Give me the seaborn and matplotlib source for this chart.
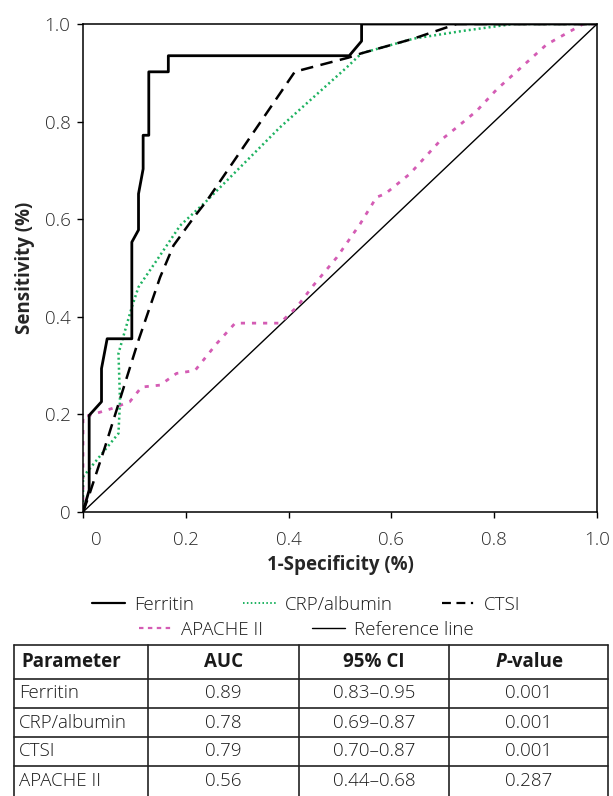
import matplotlib
matplotlib.use("Agg")
import matplotlib.pyplot as plt
import matplotlib.transforms as mtransforms
from matplotlib.lines import Line2D
import seaborn as sns

# ROC curves (1-specificity, sensitivity)
ferritin_fpr = [0, 0.012, 0.012, 0.036, 0.036, 0.047, 0.095, 0.095, 0.108, 0.108, 0.117, 0.117,
                0.128, 0.128, 0.166, 0.166, 0.518, 0.542, 0.542, 1.0]
ferritin_sens = [0, 0.045, 0.198, 0.226, 0.294, 0.355, 0.355, 0.553, 0.578, 0.652, 0.703, 0.772,
                 0.772, 0.902, 0.902, 0.935, 0.935, 0.965, 1.0, 1.0]

crp_fpr = [0, 0, 0.069, 0.072, 0.069, 0.078, 0.095, 0.108, 0.143, 0.189, 0.241, 0.383, 0.513,
           0.542, 0.643, 0.74, 0.837, 1.0]
crp_sens = [0, 0.072, 0.161, 0.229, 0.325, 0.358, 0.42, 0.461, 0.515, 0.587, 0.638, 0.788, 0.911,
            0.94, 0.97, 0.986, 1.0, 1.0]

ctsi_fpr = [0, 0.013, 0.043, 0.108, 0.15, 0.176, 0.218, 0.241, 0.412, 0.422, 0.516, 0.542, 0.643,
            0.727, 1.0]
ctsi_sens = [0, 0.038, 0.134, 0.352, 0.481, 0.546, 0.607, 0.638, 0.902, 0.905, 0.931, 0.94, 0.97,
             1.0, 1.0]

apache_fpr = [0, 0, 0.013, 0.056, 0.091, 0.114, 0.15, 0.182, 0.218, 0.26, 0.296, 0.383, 0.416,
              0.448, 0.494, 0.539, 0.571, 0.588, 0.636, 0.695, 0.727, 0.766, 0.805, 0.902, 0.973, 1.0]
apache_sens = [0, 0.196, 0.198, 0.212, 0.226, 0.256, 0.26, 0.284, 0.29, 0.345, 0.387, 0.387, 0.42,
               0.464, 0.522, 0.59, 0.645, 0.652, 0.693, 0.761, 0.788, 0.822, 0.866, 0.958, 1.0, 1.0]

ref_line = [0, 1]

ticks = [0, 0.2, 0.4, 0.6, 0.8, 1.0]
tick_labels = ["0", "0.2", "0.4", "0.6", "0.8", "1.0"]

# summary table
table_header = ["Parameter", "AUC", "95% CI", "-value"]
parameters = ["Ferritin", "CRP/albumin", "CTSI", "APACHE II"]
auc = ["0.89", "0.78", "0.79", "0.56"]
ci = ["0.83–0.95", "0.69–0.87", "0.70–0.87", "0.44–0.68"]
p_values = ["0.001", "0.001", "0.001", "0.287"]

sns.set_theme(style="white")
plt.rcParams["font.family"] = ["Open Sans", "DejaVu Sans"]
plt.rcParams["text.color"] = "#1a1a1a"

green = "#1db260"
pink = "#d45cb4"
fs = 13.5

fig = plt.figure(figsize=(6.13, 7.96), dpi=100)
ax = fig.add_axes([83 / 613, 1 - 512 / 796, 514 / 613, 488 / 796])

sns.lineplot(x=ref_line, y=ref_line, sort=False, estimator=None, color="black",
             linewidth=1.0, ax=ax)
sns.lineplot(x=apache_fpr, y=apache_sens, sort=False, estimator=None, color=pink,
             linewidth=2.0, linestyle=(0, (1.5, 2.5)), ax=ax)
sns.lineplot(x=crp_fpr, y=crp_sens, sort=False, estimator=None, color=green,
             linewidth=1.8, linestyle=(0, (0.8, 1.2)), ax=ax)
sns.lineplot(x=ctsi_fpr, y=ctsi_sens, sort=False, estimator=None, color="black",
             linewidth=1.8, linestyle=(0, (5, 3)), ax=ax)
sns.lineplot(x=ferritin_fpr, y=ferritin_sens, sort=False, estimator=None, color="black",
             linewidth=2.0, ax=ax)

ax.set_xlim(0, 1)
ax.set_ylim(0, 1)
ax.set_xticks(ticks)
ax.set_xticklabels(tick_labels)
ax.set_yticks(ticks)
ax.set_yticklabels(tick_labels)
ax.tick_params(axis="both", direction="out", length=4, width=1, color="black",
               labelsize=fs, labelcolor="#2a2a2a", bottom=True, left=True)
ax.tick_params(axis="x", pad=9.5)
ax.tick_params(axis="y", pad=5)
for lbl in ax.get_xticklabels() + ax.get_yticklabels():
    lbl.set_fontweight("light")
# the "0" on the x axis sits a bit right of its tick in the reference
first = ax.get_xticklabels()[0]
first.set_transform(first.get_transform() + mtransforms.ScaledTranslation(13 / 100, 0, fig.dpi_scale_trans))

for sp in ax.spines.values():
    sp.set_color("black")
    sp.set_linewidth(1.1)

ax.set_xlabel("1-Specificity (%)", fontsize=fs, fontweight="bold", labelpad=4.5)
ax.set_ylabel("Sensitivity (%)", fontsize=fs, fontweight="bold", labelpad=7)

# legend, two centred rows
row1 = [Line2D([], [], color="black", lw=1.6),
        Line2D([], [], color=green, lw=1.4, ls=(0, (0.8, 1.2))),
        Line2D([], [], color="black", lw=1.6, ls=(0, (4, 2.5, 4, 2.5, 1, 2.5)))]
row2 = [Line2D([], [], color=pink, lw=1.6, ls=(0, (2, 2))),
        Line2D([], [], color="black", lw=1.0)]
leg_kw = dict(frameon=False, fontsize=fs, handlelength=1.75, handletextpad=0.5,
              columnspacing=2.6, borderpad=0, loc="center")
leg1 = fig.legend(row1, ["Ferritin", "CRP/albumin", "CTSI"], ncol=3,
                  bbox_to_anchor=(0.5, 1 - 605 / 796), **leg_kw)
leg2 = fig.legend(row2, ["APACHE II", "Reference line"], ncol=2,
                  bbox_to_anchor=(0.5, 1 - 630 / 796), **leg_kw)
for leg in (leg1, leg2):
    for t in leg.get_texts():
        t.set_fontweight("light")

# table drawn in pixel coordinates of the figure
tax = fig.add_axes([0, 0, 1, 1], facecolor="none")
tax.set_xlim(0, 613)
tax.set_ylim(796, 0)
tax.axis("off")
col_edges = [14, 148, 299, 449, 608]
row_edges = [645, 679, 708, 737, 766, 797]
for y in row_edges[:-1]:
    tax.plot([col_edges[0], col_edges[-1]], [y, y], color="#222222", lw=1.2)
for x in col_edges:
    tax.plot([x, x], [row_edges[0], row_edges[-1]], color="#222222", lw=1.2)

yc = (row_edges[0] + row_edges[1]) / 2
tax.text(col_edges[0] + 7, yc, table_header[0], fontsize=fs, fontweight="bold",
         ha="left", va="center")
for j in (1, 2):
    tax.text((col_edges[j] + col_edges[j + 1]) / 2, yc, table_header[j], fontsize=fs,
             fontweight="bold", ha="center", va="center")
pc = (col_edges[3] + col_edges[4]) / 2
tax.text(pc - 22, yc, "P", fontsize=fs, fontweight="bold", fontstyle="italic",
         ha="right", va="center")
tax.text(pc - 22, yc, table_header[3], fontsize=fs, fontweight="bold", ha="left", va="center")

for i, (name, a, c, p) in enumerate(zip(parameters, auc, ci, p_values)):
    yc = (row_edges[i + 1] + row_edges[i + 2]) / 2
    tax.text(col_edges[0] + 5, yc, name, fontsize=fs, fontweight="light", ha="left", va="center")
    for j, val in enumerate([a, c, p], start=1):
        tax.text((col_edges[j] + col_edges[j + 1]) / 2, yc, val, fontsize=fs,
                 fontweight="light", ha="center", va="center")

fig.savefig("out.png", dpi=100)
